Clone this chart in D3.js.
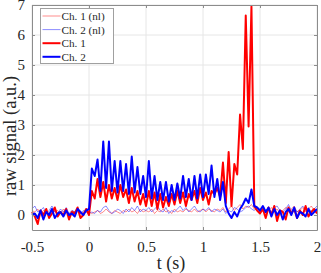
<!DOCTYPE html>
<html>
<head>
<meta charset="utf-8">
<script src="https://cdn.jsdelivr.net/npm/d3@7"></script>
<style>
  body { margin: 0; background: #fff; }
  text { font-family: "Liberation Serif", "DejaVu Serif", serif; fill: #262626; }
</style>
</head>
<body>
<div id="chart"></div>
<script>
// time axis: -0.5 .. 2 s, step 0.025 s
const tStart = -0.5;
const tStep = 0.025;

const ch1 = [0.1,-0.05,-0.3,0.15,0.0,0.2,-0.1,0.05,0.25,-0.05,0.1,0.0,0.2,-0.15,0.1,0.05,0.25,-0.1,0.0,0.2,
  0.0,
  0.8,0.55,1.2,0.6,1.1,0.45,1.0,0.55,0.9,0.5,1.0,0.6,0.85,0.4,0.9,0.45,0.8,0.35,0.7,0.3,
  0.8,0.3,0.75,0.2,0.7,0.25,0.6,0.3,0.7,0.35,0.8,0.4,0.75,0.3,0.7,0.5,0.8,0.4,0.9,0.5,
  0.75,0.35,0.8,0.7,0.9,0.6,1.75,0.4,2.1,0.3,1.7,1.35,3.35,2.2,6.65,2.95,6.95,0.3,0.15,0.05,
  0.2,-0.1,0.25,0.0,0.3,-0.2,0.15,0.1,-0.15,0.25,0.05,0.2,-0.1,0.15,0.0,0.3,-0.05,0.1,0.2,0.05];

const ch2 = [0.0,0.05,-0.1,0.15,-0.15,0.1,0.0,0.2,-0.1,0.05,0.1,-0.05,0.15,0.0,0.05,-0.05,0.2,0.1,0.0,0.15,
  0.2,
  1.55,1.3,1.85,0.8,2.45,0.9,2.45,0.8,1.8,0.75,1.8,0.8,1.7,0.7,1.95,0.75,1.6,0.7,1.3,0.6,
  1.8,0.55,1.3,0.5,1.1,0.5,1.1,0.45,1.0,0.5,1.05,0.55,1.3,0.6,1.2,0.5,1.3,0.55,1.35,0.6,
  1.35,0.7,1.65,0.6,1.2,0.5,1.1,0.3,0.05,-0.1,0.1,-0.05,0.2,0.35,0.55,0.4,0.85,0.3,0.25,0.15,
  0.3,0.1,0.25,-0.05,0.2,0.0,0.15,-0.15,0.1,0.2,0.0,0.25,-0.1,0.1,0.05,-0.05,0.2,0.0,0.1,0.2];

const ch1nl = [0.15,0.1,0.2,0.05,0.15,0.1,0.0,0.2,0.1,0.15,0.05,0.2,0.1,0.0,0.15,0.1,0.2,0.05,0.1,0.15,
  0.1,
  0.05,0.1,0.15,0.05,0.1,0.2,0.1,0.05,0.15,0.1,0.05,0.15,0.1,0.2,0.1,0.15,0.05,0.2,0.1,0.15,
  0.1,0.2,0.05,0.15,0.1,0.2,0.1,0.15,0.05,0.2,0.1,0.15,0.1,0.2,0.15,0.1,0.2,0.1,0.15,0.2,
  0.1,0.2,0.15,0.1,0.2,0.15,0.25,0.1,0.2,0.3,0.15,0.25,0.35,0.2,0.3,0.25,0.35,0.2,0.15,0.1,
  0.2,0.05,0.15,0.25,0.1,0.2,0.05,0.15,0.25,0.1,0.2,0.3,0.1,0.15,0.25,0.1,0.2,0.3,0.15,0.1];

const ch2nl = [0.2,0.3,0.1,0.15,0.25,0.05,0.15,0.3,0.1,0.05,0.2,0.1,0.25,0.05,0.15,0.1,0.2,0.05,0.15,0.1,
  0.05,
  0.1,0.05,0.15,0.1,0.25,0.3,0.15,0.05,0.1,0.2,0.15,0.05,0.2,0.1,0.25,0.15,0.3,0.1,0.2,0.15,
  0.25,0.1,0.2,0.3,0.15,0.1,0.25,0.05,0.15,0.1,0.2,0.3,0.15,0.25,0.1,0.2,0.3,0.15,0.1,0.2,
  0.15,0.25,0.1,0.2,0.15,0.1,0.2,0.05,0.15,0.1,0.25,0.2,0.1,0.15,0.25,0.3,0.2,0.15,0.25,0.1,
  0.3,0.15,0.2,0.1,0.25,0.3,0.15,0.1,0.2,0.35,0.15,0.25,0.1,0.2,0.3,0.15,0.25,0.1,0.2,0.3];

const xTicks = [-0.5, 0, 0.5, 1, 1.5, 2];
const yTicks = [0, 1, 2, 3, 4, 5, 6, 7];

const series = [
  { name: "Ch. 1 (nl)", values: ch1nl, color: "#ff0000", width: 1, opacity: 0.45 },
  { name: "Ch. 2 (nl)", values: ch2nl, color: "#0000ff", width: 1, opacity: 0.45 },
  { name: "Ch. 1", values: ch1, color: "#ff0000", width: 2, opacity: 1 },
  { name: "Ch. 2", values: ch2, color: "#0000ff", width: 2, opacity: 1 }
];

const W = 321, H = 273;
const margin = { top: 5, right: 4, bottom: 43, left: 32 };
const w = W - margin.left - margin.right;
const h = H - margin.top - margin.bottom;

const svg = d3.select("#chart").append("svg")
  .attr("width", W).attr("height", H);
const g = svg.append("g").attr("transform", `translate(${margin.left},${margin.top})`);

const x = d3.scaleLinear().domain([-0.5, 2]).range([0, w]);
const y = d3.scaleLinear().domain([-0.5, 7]).range([h, 0]);

// grid
g.append("g").selectAll("line").data(xTicks).join("line")
  .attr("x1", d => x(d)).attr("x2", d => x(d)).attr("y1", 0).attr("y2", h)
  .attr("stroke", "#e6e6e6").attr("stroke-width", 1);
g.append("g").selectAll("line").data(yTicks).join("line")
  .attr("y1", d => y(d)).attr("y2", d => y(d)).attr("x1", 0).attr("x2", w)
  .attr("stroke", "#e6e6e6").attr("stroke-width", 1);

// lines
const line = d3.line()
  .x((d, i) => x(tStart + i * tStep))
  .y(d => y(d));

g.append("g").selectAll("path").data(series).join("path")
  .attr("d", d => line(d.values))
  .attr("fill", "none")
  .attr("stroke", d => d.color)
  .attr("stroke-opacity", d => d.opacity)
  .attr("stroke-width", d => d.width)
  .attr("stroke-linejoin", "round");

// axes (box with inward ticks)
const axisColor = "#8c8c8c";
g.append("g").attr("transform", `translate(0,${h})`)
  .call(d3.axisBottom(x).tickValues(xTicks).tickSizeInner(-3).tickSizeOuter(0).tickPadding(11)
    .tickFormat(d => d3.format("")(d).replace("−", "-")));
g.append("g")
  .call(d3.axisLeft(y).tickValues(yTicks).tickSizeInner(-3).tickSizeOuter(0).tickPadding(7));
g.append("g")
  .call(d3.axisTop(x).tickValues(xTicks).tickSizeInner(-3).tickSizeOuter(0).tickFormat(""));
g.append("g").attr("transform", `translate(${w},0)`)
  .call(d3.axisRight(y).tickValues(yTicks).tickSizeInner(-3).tickSizeOuter(0).tickFormat(""));

g.selectAll(".domain").attr("stroke", axisColor);
g.selectAll(".tick line").attr("stroke", axisColor);
g.selectAll(".tick text")
  .style("font-family", "'Liberation Serif', serif")
  .style("font-size", "15px")
  .attr("fill", "#262626");

// axis labels
svg.append("text")
  .attr("x", 171)
  .attr("y", 269)
  .attr("text-anchor", "middle")
  .style("font-size", "18px")
  .text("t (s)");

svg.append("text")
  .attr("transform", "translate(16,136) rotate(-90)")
  .attr("text-anchor", "middle")
  .style("font-size", "18.5px")
  .text("raw signal (a.u.)");

// legend
const legend = svg.append("g").attr("transform", "translate(40.5,8.5)");
legend.append("rect")
  .attr("width", 73).attr("height", 55)
  .attr("fill", "#fff").attr("stroke", "#a0a0a0").attr("stroke-width", 1);
const rows = legend.selectAll("g.row").data(series).join("g")
  .attr("class", "row")
  .attr("transform", (d, i) => `translate(0,${7.5 + i * 13.6})`);
rows.append("line")
  .attr("x1", 2).attr("x2", 20).attr("y1", 0).attr("y2", 0)
  .attr("stroke", d => d.color)
  .attr("stroke-opacity", d => d.opacity)
  .attr("stroke-width", d => d.width);
rows.append("text")
  .attr("x", 21).attr("y", 0).attr("dy", "0.35em")
  .style("font-size", "11.2px")
  .text(d => d.name);
</script>
</body>
</html>
